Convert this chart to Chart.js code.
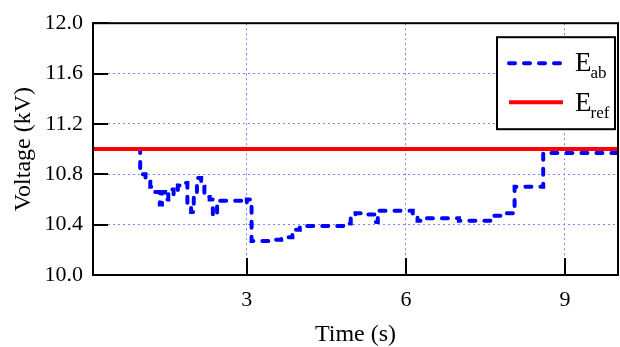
<!DOCTYPE html>
<html>
<head>
<meta charset="utf-8">
<script src="https://cdn.jsdelivr.net/npm/chart.js@4"></script>
<style>
	html, body { margin: 0; padding: 0; background: #fff; }
	#wrap { width: 620px; height: 347px; }
</style>
</head>
<body>
<div id="wrap"><canvas id="voltChart" width="620" height="347"></canvas></div>
<script>
// Voltage vs time - E_ab against E_ref

// E_ab step trace (time in s, voltage in kV)
const abTimes = [0.1, 0.99, 1.09, 1.18, 1.27, 1.36, 1.40, 1.46, 1.52, 1.62, 1.70, 1.80, 1.88, 1.95, 2.00, 2.06, 2.14, 2.20, 2.30, 2.36, 2.44, 2.95, 3.00, 3.09, 3.45, 3.65, 3.86, 4.00, 4.88, 4.96, 5.05, 5.16, 5.41, 5.47, 6.13, 6.22, 6.30, 7.00, 7.61, 7.89, 8.05, 8.59, 10.0];
const abValues = [11.0, 10.80, 10.74, 10.70, 10.66, 10.56, 10.66, 10.60, 10.68, 10.64, 10.71, 10.73, 10.55, 10.50, 10.62, 10.77, 10.70, 10.62, 10.60, 10.47, 10.59, 10.57, 10.60, 10.27, 10.28, 10.30, 10.36, 10.39, 10.41, 10.47, 10.49, 10.48, 10.42, 10.51, 10.46, 10.43, 10.45, 10.43, 10.47, 10.49, 10.70, 10.97, 10.97];

// reference voltage
const refTimes = [0.1, 10.0];
const refValues = [11.0, 11.0];

// legend names: main letter + subscript
const seriesMain = ['E', 'E'];
const seriesSub = ['ab', 'ref'];

// axis ticks
const xTicks = [3, 6, 9];
const yTicks = [10.0, 10.4, 10.8, 11.2, 11.6, 12.0];

const serif = 'Liberation Serif, Times New Roman, serif';

function toPoints(xs, ys) {
	return xs.map((x, i) => ({ x: x, y: ys[i] }));
}

// black frame round the plot and inward tick marks
const framePlugin = {
	id: 'frame',
	afterDatasetsDraw(chart) {
		const { ctx, chartArea: a, scales } = chart;
		ctx.save();
		ctx.strokeStyle = '#000';
		ctx.lineWidth = 2;
		ctx.setLineDash([]);
		ctx.beginPath();
		yTicks.forEach(v => {
			const y = Math.round(scales.y.getPixelForValue(v));
			ctx.moveTo(a.left, y);
			ctx.lineTo(a.left + 15, y);
		});
		xTicks.forEach(v => {
			const x = Math.round(scales.x.getPixelForValue(v));
			ctx.moveTo(x, a.bottom);
			ctx.lineTo(x, a.bottom - 17);
		});
		ctx.stroke();
		ctx.strokeRect(a.left, a.top, a.right - a.left, a.bottom - a.top);
		ctx.restore();
	}
};

// legend with subscripts (canvas legend can't do <sub>)
const subLegend = {
	id: 'subLegend',
	afterDraw(chart) {
		const { ctx, chartArea: a } = chart;
		const w = 118, h = 92;
		const left = a.right - 3 - w;
		const top = a.top + 14;
		ctx.save();
		ctx.fillStyle = '#fff';
		ctx.fillRect(left, top, w, h);
		ctx.strokeStyle = '#000';
		ctx.lineWidth = 2;
		ctx.strokeRect(left, top, w, h);

		const rows = [
			{ ds: chart.data.datasets[1], lineY: top + 26, base: top + 34 },
			{ ds: chart.data.datasets[0], lineY: top + 65, base: top + 74 }
		];
		rows.forEach((r, i) => {
			ctx.strokeStyle = r.ds.borderColor;
			ctx.lineWidth = r.ds.borderWidth;
			ctx.lineCap = r.ds.borderCapStyle || 'butt';
			ctx.setLineDash(r.ds.borderDash || []);
			ctx.beginPath();
			ctx.moveTo(left + 12, r.lineY);
			ctx.lineTo(left + 66, r.lineY);
			ctx.stroke();
			ctx.setLineDash([]);

			ctx.fillStyle = '#000';
			ctx.textBaseline = 'alphabetic';
			ctx.textAlign = 'left';
			ctx.font = '27px ' + serif;
			const tx = left + 78;
			ctx.fillText(seriesMain[i], tx, r.base);
			const mw = ctx.measureText(seriesMain[i]).width;
			ctx.font = '17px ' + serif;
			ctx.fillText(seriesSub[i], tx + mw - 1, r.base + 7);
		});
		ctx.restore();
	}
};

document.addEventListener('DOMContentLoaded', () => {
	const ctx = document.getElementById('voltChart').getContext('2d');

	new Chart(ctx, {
		type: 'line',
		data: {
			datasets: [
				{
					label: 'E_ref',
					data: toPoints(refTimes, refValues),
					borderColor: '#ff0000',
					borderWidth: 4,
					pointRadius: 0,
					fill: false
				},
				{
					label: 'E_ab',
					data: toPoints(abTimes, abValues),
					borderColor: '#0000ff',
					borderWidth: 4,
					borderDash: [6, 9],
					borderCapStyle: 'round',
					stepped: true,
					pointRadius: 0,
					fill: false
				}
			]
		},
		options: {
			responsive: false,
			animation: false,
			layout: { padding: { top: 22, right: 2, left: 0, bottom: 0 } },
			plugins: {
				legend: { display: false },
				tooltip: { enabled: false }
			},
			scales: {
				x: {
					type: 'linear',
					min: 0.1,
					max: 10,
					afterBuildTicks: s => { s.ticks = xTicks.map(v => ({ value: v })); },
					afterFit: s => { s.height = 72; },
					grid: { color: '#7f7fff', lineWidth: 1, drawTicks: false },
					border: { display: false, dash: [2, 3] },
					ticks: {
						padding: 12,
						color: '#000',
						font: { family: serif, size: 22 },
						callback: v => String(v)
					},
					title: {
						display: true,
						text: 'Time (s)',
						color: '#000',
						font: { family: serif, size: 24, lineHeight: 1 },
						padding: { top: 0, bottom: 0 }
					}
				},
				y: {
					type: 'linear',
					min: 10,
					max: 12,
					afterBuildTicks: s => { s.ticks = yTicks.map(v => ({ value: v })); },
					afterFit: s => { s.width = 93; },
					grid: { color: '#7f7fff', lineWidth: 1, drawTicks: false },
					border: { display: false, dash: [2, 3] },
					ticks: {
						padding: 10,
						color: '#000',
						font: { family: serif, size: 22 },
						callback: v => Number(v).toFixed(1)
					},
					title: {
						display: true,
						text: 'Voltage (kV)',
						color: '#000',
						font: { family: serif, size: 24, lineHeight: 1 },
						padding: { top: 12, bottom: 0 }
					}
				}
			}
		},
		plugins: [framePlugin, subLegend]
	});
});
</script>
</body>
</html>
